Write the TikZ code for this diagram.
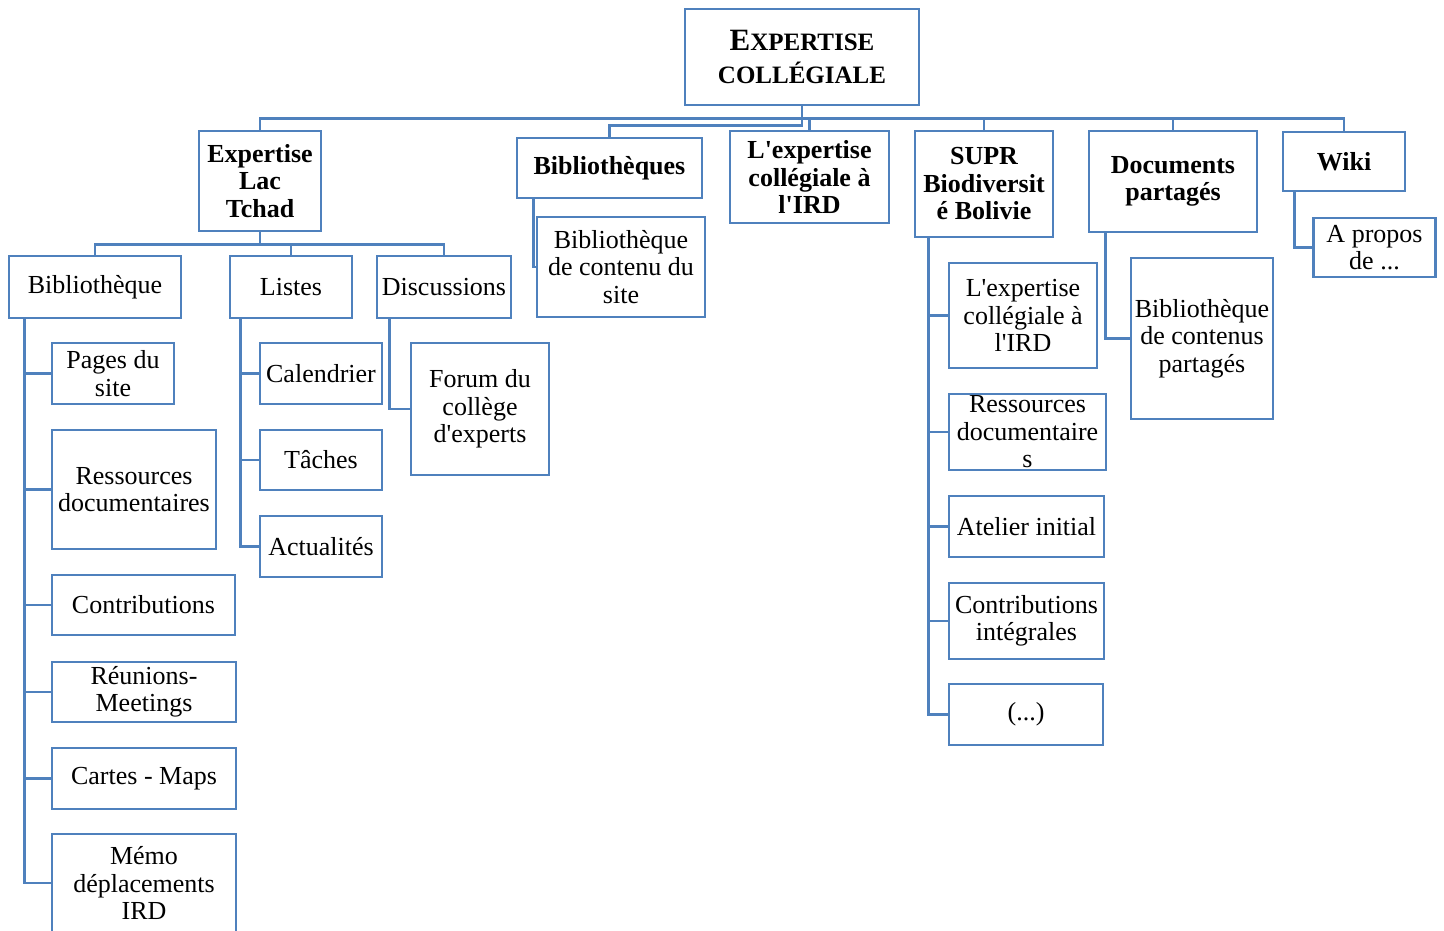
\documentclass[tikz,border=0pt]{standalone}
\usepackage{fontspec}
\setmainfont{Liberation Serif}[Ligatures=TeXOff]
\definecolor{ibm}{RGB}{79,129,189}
\tikzset{
  box/.style={draw=ibm, line width=2.9pt, fill=white, inner sep=0pt, align=center,
    font=\fontsize{26}{27.5}\selectfont},
  bbox/.style={box, font=\bfseries\fontsize{26}{27.5}\selectfont},
  conn/.style={draw=ibm, line width=2.9pt}
}
\begin{document}
\begin{tikzpicture}[x=1pt,y=-1pt]
\useasboundingbox (0,0) rectangle (1444,930);
\clip (0,0) rectangle (1444,930);
% level 0
\node[box, minimum width=234pt, minimum height=96pt, font=\bfseries\fontsize{25}{33}\selectfont] (root) at (802,57)
  {{\fontsize{31}{33}\selectfont E}XPERTISE\\COLLÉGIALE};
% level 1
\node[bbox, minimum width=122pt, minimum height=100pt] (tchad) at (260,181) {Expertise\\Lac\\Tchad};
\node[bbox, minimum width=185pt, minimum height=60pt] (biblio) at (609.5,168) {Bibliothèques};
\node[bbox, minimum width=159pt, minimum height=92pt] (lexp) at (809.5,177) {L'expertise\\collégiale à\\l'IRD};
\node[bbox, minimum width=138pt, minimum height=106pt] (supr) at (984,184) {SUPR\\Biodiversit\\é Bolivie};
\node[bbox, minimum width=168pt, minimum height=101pt] (docs) at (1173,181.5) {Documents\\partagés};
\node[bbox, minimum width=122pt, minimum height=59pt] (wiki) at (1344,161.5) {Wiki};
% level 2 under tchad
\node[box, minimum width=172pt, minimum height=62pt] (bib) at (95,287) {Bibliothèque};
\node[box, minimum width=122pt, minimum height=62pt] (listes) at (291,287) {Listes};
\node[box, minimum width=134pt, minimum height=62pt] (disc) at (444,287) {Discussions};
% children of bib
\node[box, minimum width=122pt, minimum height=61pt] (pages) at (113,373.5) {Pages du\\site};
\node[box, minimum width=164pt, minimum height=119pt] (ress) at (134,489.5) {Ressources\\documentaires};
\node[box, minimum width=183pt, minimum height=60pt] (contrib) at (143.5,605) {Contributions};
\node[box, minimum width=184pt, minimum height=60pt] (reun) at (144,692) {Réunions-\\Meetings};
\node[box, minimum width=184pt, minimum height=61pt] (cartes) at (144,778.5) {Cartes - Maps};
\node[box, minimum width=184pt, minimum height=98pt] (memo) at (144,883) {Mémo\\déplacements\\IRD};
% children of listes
\node[box, minimum width=122pt, minimum height=61pt] (cal) at (321,373.5) {Calendrier};
\node[box, minimum width=122pt, minimum height=60pt] (taches) at (321,460) {Tâches};
\node[box, minimum width=122pt, minimum height=61pt] (actu) at (321,546.5) {Actualités};
% child of disc
\node[box, minimum width=138pt, minimum height=132pt] (forum) at (480,409) {Forum du\\collège\\d'experts};
% child of biblio
\node[box, minimum width=168pt, minimum height=100pt] (bcs) at (621,267) {Bibliothèque\\de contenu du\\site};
% children of supr
\node[box, minimum width=148pt, minimum height=105pt] (sexp) at (1023,315.5) {L'expertise\\collégiale à\\l'IRD};
\node[box, minimum width=157pt, minimum height=76pt] (sress) at (1027.5,432) {Ressources\\documentaire\\s};
\node[box, minimum width=155pt, minimum height=61pt] (atel) at (1026.5,526.5) {Atelier initial};
\node[box, minimum width=155pt, minimum height=76pt] (scontrib) at (1026.5,621) {Contributions\\intégrales};
\node[box, minimum width=154pt, minimum height=61pt] (sdots) at (1026,714.5) {(...)};
% child of docs
\node[box, minimum width=142pt, minimum height=161pt] (bcp) at (1202,338.5) {Bibliothèque\\de contenus\\partagés};
% child of wiki
\node[box, minimum width=122pt, minimum height=59pt] (apropos) at (1374.5,247.5) {A propos\\de ...};
% connectors level 0 -> 1
\draw[conn] (root.south) -- ++(0,12) -| (tchad.north);
\draw[conn] (root.south) -- ++(0,19) -| (biblio.north);
\draw[conn] (root.south) -- ++(0,12) -| (lexp.north);
\draw[conn] (root.south) -- ++(0,12) -| (supr.north);
\draw[conn] (root.south) -- ++(0,12) -| (docs.north);
\draw[conn] (root.south) -- ++(0,12) -| (wiki.north);
% tchad -> level 2
\draw[conn] (tchad.south) -- ++(0,12) -| (bib.north);
\draw[conn] (tchad.south) -- ++(0,12) -| (listes.north);
\draw[conn] (tchad.south) -- ++(0,12) -| (disc.north);
% children
\foreach \c in {pages,ress,contrib,reun,cartes,memo}
  \draw[conn] ([xshift=17pt]bib.south west) |- (\c.west);
\foreach \c in {cal,taches,actu}
  \draw[conn] ([xshift=12pt]listes.south west) |- (\c.west);
\draw[conn] ([xshift=14pt]disc.south west) |- (forum.west);
\draw[conn] ([xshift=18pt]biblio.south west) |- (bcs.west);
\foreach \c in {sexp,sress,atel,scontrib,sdots}
  \draw[conn] ([xshift=15pt]supr.south west) |- (\c.west);
\draw[conn] ([xshift=18pt]docs.south west) |- (bcp.west);
\draw[conn] ([xshift=13pt]wiki.south west) |- (apropos.west);
\end{tikzpicture}
\end{document}
